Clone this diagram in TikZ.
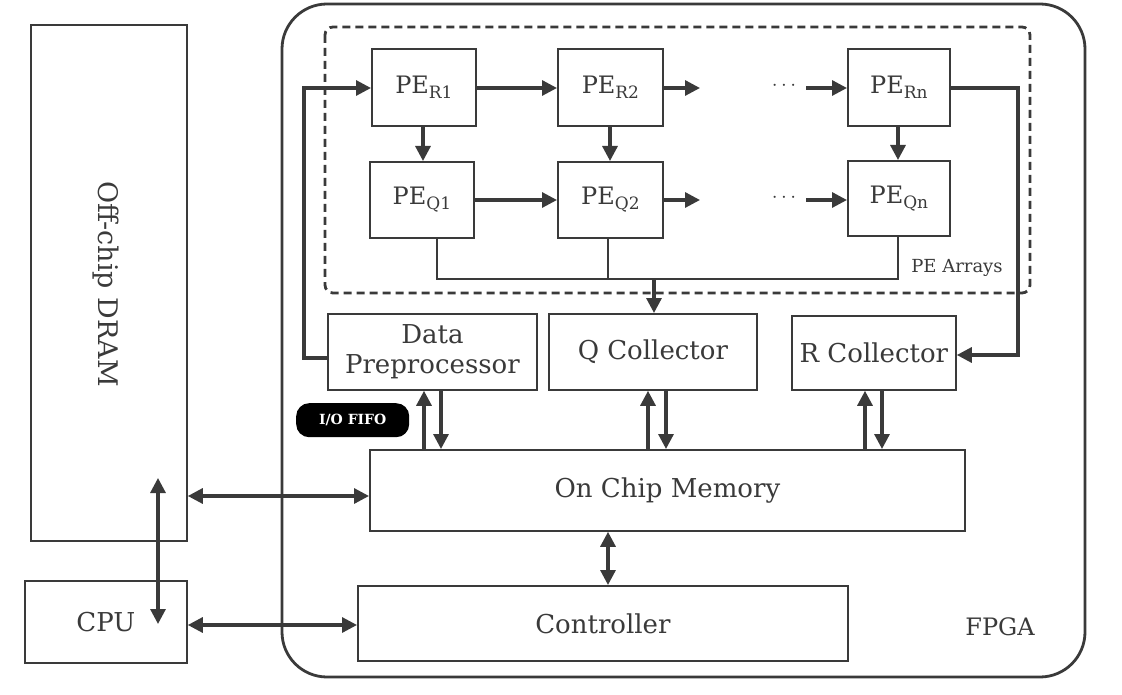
\documentclass[tikz,border=0pt]{standalone}
\usepackage{fontspec}
\setmainfont{DejaVu Serif}
\usetikzlibrary{arrows.meta}
\definecolor{ln}{HTML}{3A3A3A}
\newcommand{\sbs}[1]{{\fontsize{17}{18}\selectfont\raisebox{-5pt}{#1}}}
\begin{document}
\begin{tikzpicture}[x=1pt,y=-1pt,
  box/.style={draw=ln, line width=1.8pt, inner sep=0pt, anchor=north west, align=center,
              font=\fontsize{26}{30}\selectfont, text=ln},
  pe/.style={box, font=\fontsize{24}{28}\selectfont},
  ar/.style={draw=ln, line width=3.2pt, -{Triangle[length=15pt,width=15pt]}},
  dar/.style={draw=ln, line width=3.2pt, {Triangle[length=15pt,width=15pt]}-{Triangle[length=15pt,width=15pt]}},
  wire/.style={draw=ln, line width=2.8pt},
  lbl/.style={font=\fontsize{26}{30}\selectfont, text=ln, inner sep=0pt}]
\useasboundingbox (0,0) rectangle (1122,695);

% containers
\draw[ln, line width=2.8pt, rounded corners=45pt] (282,4) rectangle (1085,677);
\draw[ln, line width=2.8pt, dash pattern=on 8pt off 5pt, rounded corners=8pt] (325,27) rectangle (1030,293);

% boxes
\node[box, minimum width=156pt, minimum height=516pt] (dram) at (30,24) {};
\node[lbl, font=\fontsize{27}{30}\selectfont, rotate=-90] (dramlbl) at (106,284) {Off-chip DRAM};
\node[box, minimum width=162pt, minimum height=82pt] (cpu) at (24,580) {CPU};

\node[pe, minimum width=104pt, minimum height=77pt] (r1) at (371,48) {PE\sbs{R1}};
\node[pe, minimum width=105pt, minimum height=77pt] (r2) at (557,48) {PE\sbs{R2}};
\node[pe, minimum width=102pt, minimum height=77pt] (rn) at (847,48) {PE\sbs{Rn}};
\node[pe, minimum width=104pt, minimum height=76pt] (q1) at (369,161) {PE\sbs{Q1}};
\node[pe, minimum width=105pt, minimum height=76pt] (q2) at (557,161) {PE\sbs{Q2}};
\node[pe, minimum width=102pt, minimum height=75pt] (qn) at (847,160) {PE\sbs{Qn}};
\node[font=\fontsize{18}{20}\selectfont, text=ln, inner sep=0pt] (pelbl) at (957,268) {PE Arrays};

\node[box, minimum width=209pt, minimum height=76pt] (dp) at (327,313) {Data\\Preprocessor};
\node[box, minimum width=208pt, minimum height=76pt] (qc) at (548,313) {Q Collector};
\node[box, minimum width=164pt, minimum height=74pt] (rc) at (791,315) {R Collector};
\node[anchor=north west, fill=black, rounded corners=13pt, minimum width=113pt, minimum height=34pt,
      inner sep=0pt, text=white, font=\fontsize{14}{16}\selectfont\bfseries] (fifo) at (296,403) {I/O FIFO};

\node[box, minimum width=595pt, minimum height=81pt] (ocm) at (369,449) {On Chip Memory};
\node[box, minimum width=490pt, minimum height=75pt] (ctl) at (357,585) {Controller};
\node[lbl, font=\fontsize{24}{28}\selectfont] (fpga) at (1000,627) {FPGA};

% PE row arrows
\draw[ar] (r1.east |- 0,88) -- (r2.west |- 0,88);
\coordinate (rs) at (700,88);
\draw[ar] (r2.east |- 0,88) -- (rs);
\node[lbl, font=\fontsize{20}{22}\selectfont] (rdots) at (784,86) {$\cdots$};
\coordinate (rs2) at (806,88);
\draw[ar] (rs2) -- (rn.west |- 0,88);

\draw[ar] (q1.east |- 0,200) -- (q2.west |- 0,200);
\coordinate (qs) at (700,200);
\draw[ar] (q2.east |- 0,200) -- (qs);
\node[lbl, font=\fontsize{20}{22}\selectfont] (qdots) at (784,198) {$\cdots$};
\coordinate (qs2) at (806,200);
\draw[ar] (qs2) -- (qn.west |- 0,200);

% R to Q
\draw[ar] (r1.south -| 423,0) -- (q1.north -| 423,0);
\draw[ar] (r2.south -| 610,0) -- (q2.north -| 610,0);
\draw[ar] (rn.south -| 898,0) -- (qn.north -| 898,0);

% Q bus
\coordinate (bus1) at (437,279);
\coordinate (bus2) at (898,279);
\draw[wire] (q1.south -| 437,0) -- (bus1) -- (bus2) -- (qn.south -| 898,0);
\draw[wire] (q2.south -| 608,0) -- (608,279);
\draw[ar] (654,279) -- (qc.north -| 654,0);

% Rn to R collector
\draw[ar] (rn.east |- 0,88) -- (1018,88) -- (1018,355) -- (rc.east |- 0,355);

% DP to R1
\draw[ar] (dp.west |- 0,358) -- (304,358) -- (304,88) -- (r1.west |- 0,88);

% collectors <-> OCM
\draw[ar] (ocm.north -| 424,0) -- (dp.south -| 424,0);
\draw[ar] (dp.south -| 441,0) -- (ocm.north -| 441,0);
\draw[ar] (ocm.north -| 648,0) -- (qc.south -| 648,0);
\draw[ar] (qc.south -| 666,0) -- (ocm.north -| 666,0);
\draw[ar] (ocm.north -| 865,0) -- (rc.south -| 865,0);
\draw[ar] (rc.south -| 882,0) -- (ocm.north -| 882,0);

% external
\draw[dar] (dram.east |- 0,496) -- (ocm.west |- 0,496);
\draw[dar] (cpu.east |- 0,625) -- (ctl.west |- 0,625);
\coordinate (dtop) at (158,478);
\coordinate (cbot) at (158,624);
\draw[dar] (dtop) -- (cbot);
\draw[dar] (ocm.south -| 608,0) -- (ctl.north -| 608,0);
\end{tikzpicture}
\end{document}
